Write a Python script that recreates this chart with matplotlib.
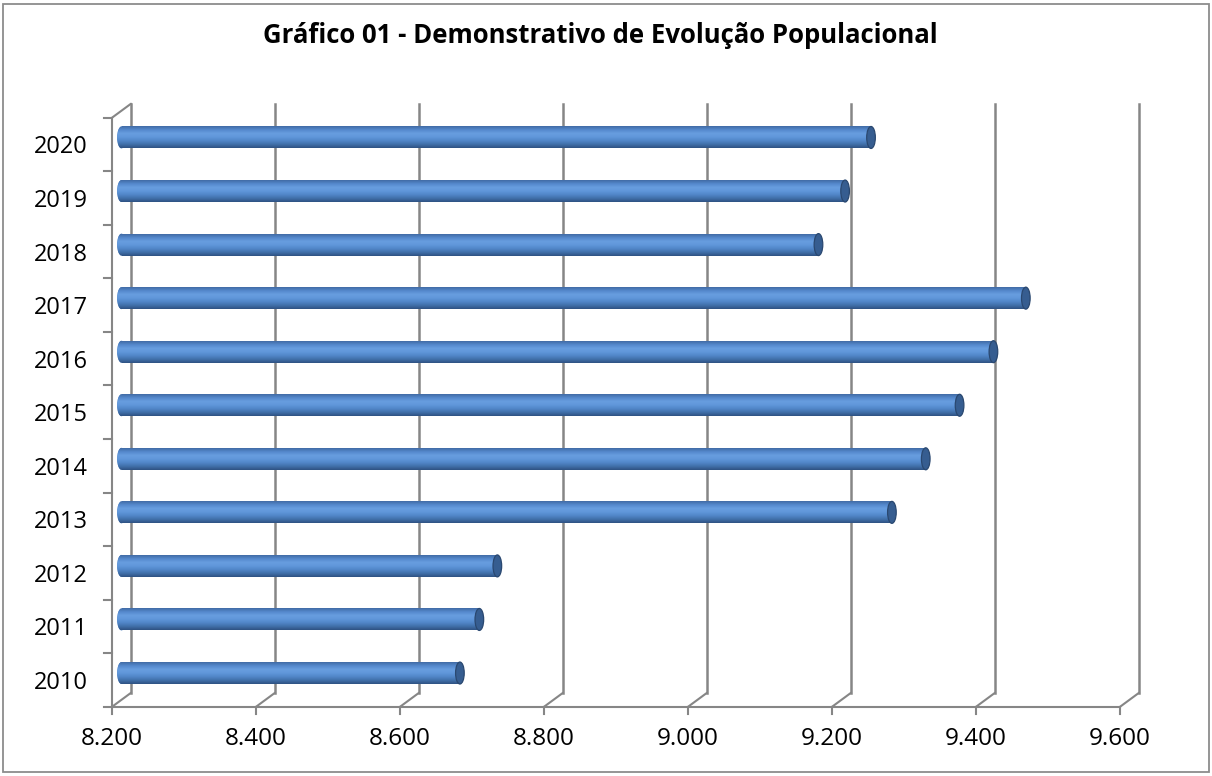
import matplotlib.pyplot as plt
import numpy as np
from matplotlib.patches import Rectangle, Ellipse, ConnectionPatch
from matplotlib.transforms import ScaledTranslation
from matplotlib.colors import LinearSegmentedColormap

plt.rcParams['font.family'] = ['Open Sans', 'DejaVu Sans']

# --- dados ---
anos = ['2010', '2011', '2012', '2013', '2014', '2015', '2016', '2017', '2018', '2019', '2020']
populacao = [8.670, 8.697, 8.722, 9.270, 9.317, 9.364, 9.411, 9.456, 9.168, 9.205, 9.241]
x_ticks = [8.2, 8.4, 8.6, 8.8, 9.0, 9.2, 9.4, 9.6]
x_labels = ['8.200', '8.400', '8.600', '8.800', '9.000', '9.200', '9.400', '9.600']
titulo = 'Gráfico 01 - Demonstrativo de Evolução Populacional'

W, H = 1212, 776
fig = plt.figure(figsize=(W / 100, H / 100), dpi=100)
# eixo um pouco mais largo à esquerda para não cortar a tampa dos cilindros
x_min = 8.18
ax = fig.add_axes([107.1 / W, 76.2 / H, 1022.4 / W, 589.1 / H])
ax.patch.set_alpha(0)
for s in ax.spines.values():
    s.set_visible(False)

# planos da "caixa 3D": frente e fundo deslocados do plano das barras
frente = ax.transData + ScaledTranslation(-0.095, -0.07, fig.dpi_scale_trans)
fundo = ax.transData + ScaledTranslation(0.095, 0.07, fig.dpi_scale_trans)

cinza = '#868686'
y0, y1 = -0.5, len(anos) - 0.5

def diagonal(x, y):
    cp = ConnectionPatch((x, y), (x, y), coordsA=frente, coordsB=fundo,
                         color=cinza, lw=1.5, clip_on=False, zorder=1)
    ax.add_artist(cp)

# grade no fundo + diagonais do chão
for x in x_ticks:
    ax.plot([x, x], [y0, y1], color=cinza, lw=1.8, transform=fundo, clip_on=False, zorder=1)
    diagonal(x, y0)
    ax.plot([x, x], [y0, y0 - 0.13], color=cinza, lw=1.5, transform=frente, clip_on=False)
diagonal(x_ticks[0], y1)

# eixos da frente
ax.plot([x_ticks[0], x_ticks[-1]], [y0, y0], color=cinza, lw=1.5, transform=frente, clip_on=False)
ax.plot([x_ticks[0], x_ticks[0]], [y0, y1], color=cinza, lw=1.5, transform=frente, clip_on=False)
for yb in np.arange(y0, y1 + 0.01, 1.0):
    ax.plot([x_ticks[0] - 0.011, x_ticks[0]], [yb, yb], color=cinza, lw=1.5,
            transform=frente, clip_on=False)

# --- cilindros ---
perfil = ['#416ca6', '#5589cd', '#689ddf', '#6097da', '#5186c8', '#4170aa', '#2f5283']
cmap = LinearSegmentedColormap.from_list('cil', perfil)
grad = np.linspace(0, 1, 64).reshape(-1, 1)
h = 0.41
cap_w = 0.012
base = x_ticks[0]

bars = ax.barh(np.arange(len(anos)), np.array(populacao) - base, left=base, height=h,
               color='none', edgecolor='none', zorder=3)
for i, (bar, v) in enumerate(zip(bars, populacao)):
    yb = bar.get_y()
    ext = [base - cap_w / 2, v, yb, yb + h]
    esq = Ellipse((base, i), cap_w, h, facecolor='#4a7dbe', edgecolor='none', zorder=2.9)
    ax.add_patch(esq)
    im = ax.imshow(grad, extent=ext, cmap=cmap, aspect='auto', origin='upper',
                   zorder=3, interpolation='bilinear')
    im.set_clip_path(bar)
    im2 = ax.imshow(grad, extent=ext, cmap=cmap, aspect='auto', origin='upper',
                    zorder=3, interpolation='bilinear')
    im2.set_clip_path(esq)
    ax.add_patch(Ellipse((v, i), cap_w, h, facecolor='#365d90', edgecolor='#2a4870',
                         lw=0.9, zorder=4))

ax.set_xlim(x_min, x_ticks[-1])
ax.set_ylim(y0, y1)

# rótulos dos eixos
ax.set_xticks(x_ticks, x_labels)
ax.set_yticks(np.arange(len(anos)), anos)
ax.tick_params(axis='x', length=0, pad=14.5, labelsize=17.5)
ax.tick_params(axis='y', length=0, pad=6.9, labelsize=17)
desloc = ScaledTranslation(-0.095, -0.07, fig.dpi_scale_trans)
for lab in ax.get_xticklabels() + ax.get_yticklabels():
    lab.set_transform(lab.get_transform() + desloc)

fig.text(600 / W, 1 - 43 / H, titulo, ha='center', va='baseline',
         fontsize=18.5, fontweight='bold')

# borda do gráfico
fig.patches.append(Rectangle((3 / W, 4 / H), 1206 / W, 768 / H, transform=fig.transFigure,
                             fill=False, edgecolor='#8c8c8c', lw=1.3))

fig.savefig('out.png', dpi=100)
